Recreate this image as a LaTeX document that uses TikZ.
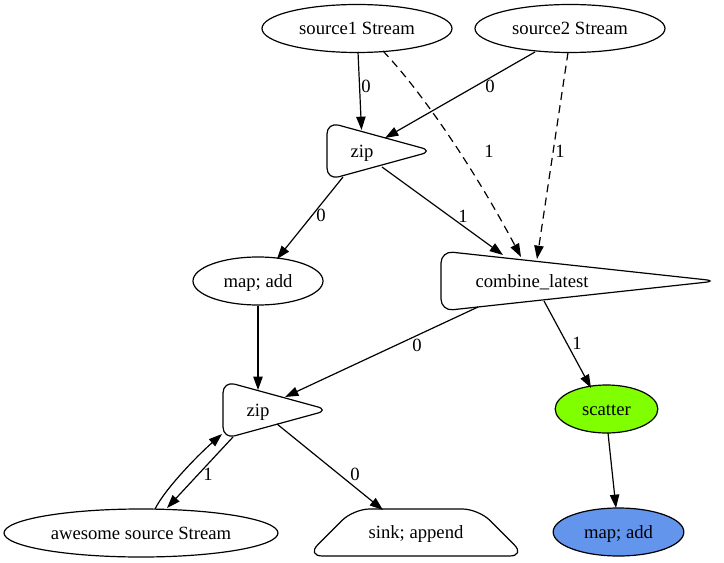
\documentclass[tikz,border=0pt]{standalone}
\usepackage{fontspec}
\setmainfont{Liberation Serif}
\usetikzlibrary{arrows.meta,calc,shapes.geometric}
\definecolor{chartreuse}{HTML}{7FFF00}
\definecolor{cornflower}{HTML}{6495ED}
\begin{document}
\begin{tikzpicture}[x=0.75pt,y=-0.75pt,
  every node/.style={font=\fontsize{14}{16}\selectfont, text height=9.3pt, text depth=0pt, inner sep=0pt},
  ell/.style={draw, ellipse, line width=0.9pt, minimum height=36pt},
  outline/.style={draw, line width=0.9pt, rounded corners=9pt},
  flow/.style={line width=0.9pt, -{Triangle[length=10pt,width=7pt]}},
  dflow/.style={flow, dash pattern=on 6pt off 4pt},
  lbl/.style={}
]
\useasboundingbox (0,0) rectangle (724,563);

% ellipse nodes
\node[ell, minimum width=142.5pt] (s1) at (357,28.5) {source1 Stream};
\node[ell, minimum width=142.5pt] (s2) at (570,28.5) {source2 Stream};
\node[ell, minimum width=97.5pt] (map1) at (258,281) {map; add};
\node[ell, minimum width=77pt, fill=chartreuse] (scat) at (606.5,409) {scatter};
\node[ell, minimum width=98pt, fill=cornflower] (map2) at (618.5,532) {map; add};
\node[ell, minimum width=205.5pt] (aws) at (141,533) {awesome source Stream};

% custom-shaped nodes (text) and their outlines
\node (zipA) at (362,151) {zip};
\node (comb) at (532,281) {combine\_latest};
\node (zipB) at (258,410) {zip};
\node (sink) at (416,532) {sink; append};

\draw[outline] ([shift={(-35,-29)}]zipA.center) -- ([shift={(71,0)}]zipA.center) -- ([shift={(-35,29)}]zipA.center) -- cycle;
\draw[outline] ([shift={(-35,-29)}]zipB.center) -- ([shift={(71,0)}]zipB.center) -- ([shift={(-35,29)}]zipB.center) -- cycle;
\draw[outline] ([shift={(-91,-30)}]comb.center) -- ([shift={(185,0)}]comb.center) -- ([shift={(-91,30)}]comb.center) -- cycle;
\draw[outline, rounded corners=12pt] ([shift={(-62.5,-23)}]sink.center) -- ([shift={(62.5,-23)}]sink.center) -- ([shift={(109.5,24)}]sink.center) -- ([shift={(-109.5,24)}]sink.center) -- cycle;

% edges
\draw[flow] ($(s1)+(1,23.5)$) -- ($(zipA)+(-0.5,-21)$);
\draw[dflow] ($(s1)+(26,22.5)$) .. controls +(40,42) and +(-45,-85) .. ($(comb)+(-11,-24)$);
\draw[flow] ($(s2)+(-35,23.5)$) -- ($(zipA)+(23,-13)$);
\draw[dflow] ($(s2)+(-2,24)$) -- ($(comb)+(5,-22)$);
\draw[flow] ($(zipA)+(20,16)$) -- ($(comb)+(-29,-26)$);
\draw[flow] ($(zipA)+(-19,26)$) -- ($(map1)+(19,-22)$);
\draw[flow] (map1.south) -- ($(zipB)+(0,-20)$);
\draw[flow] ($(comb)+(-54,26)$) -- ($(zipB)+(27,-13)$);
\draw[flow] ($(comb)+(12,20)$) -- ($(scat)+(-15.5,-21)$);
\draw[flow] ($(scat)+(1.5,24)$) -- ($(map2)+(-2.5,-24)$);
\draw[flow] ($(zipB)+(19,14)$) -- ($(sink)+(-33,-22)$);
\draw[flow] ($(zipB)+(-25,27)$) -- ($(aws)+(26,-25)$);
\draw[flow] ($(aws)+(14,-24)$) .. controls +(10,-20) and +(-25,22) .. ($(zipB)+(-36,24)$);

% edge labels
\node[lbl] (l1) at (366,86) {0};
\node[lbl] (l2) at (489,151) {1};
\node[lbl] (l3) at (490,86) {0};
\node[lbl] (l4) at (560,151) {1};
\node[lbl] (l5) at (463,216) {1};
\node[lbl] (l6) at (321,215) {0};
\node[lbl] (l8) at (417,345) {0};
\node[lbl] (l9) at (577,343) {1};
\node[lbl] (l11) at (355,474) {0};
\node[lbl] (l12) at (208,474) {1};
\end{tikzpicture}
\end{document}
